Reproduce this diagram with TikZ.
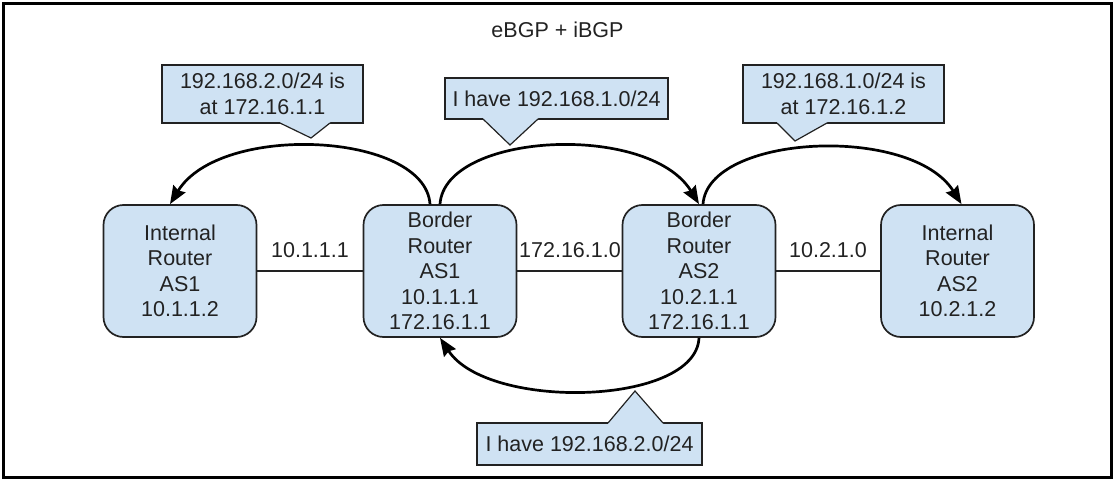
\documentclass[tikz,border=0pt]{standalone}
\usepackage{fontspec}
\setmainfont{Liberation Sans}
\usetikzlibrary{arrows.meta}
\definecolor{boxfill}{HTML}{CFE2F3}
\definecolor{edge}{HTML}{222222}
\begin{document}
\begin{tikzpicture}[x=1pt,y=-1pt,
  txt/.style={font=\fontsize{21.5}{25.5}\selectfont, text=edge},
  router/.style={txt, draw=edge, fill=boxfill, line width=1.7pt, rounded corners=20pt,
    minimum width=153pt, minimum height=132pt, inner sep=0pt, align=center},
  callout/.style={txt, draw=edge, fill=boxfill, line width=1.2pt, inner sep=0pt, align=center},
  pointerfill/.style={fill=boxfill},
  pointerline/.style={draw=edge, line width=1.2pt, line join=miter},
  link/.style={draw=edge, line width=1.4pt},
  bgp/.style={draw=black, line width=2.7pt, -{Stealth[length=18pt,width=14pt,inset=2pt]}}
]
\useasboundingbox (0,0) rectangle (1114,479);
\draw[line width=3pt] (3,3) rectangle (1111,477);

\node[txt] (title) at (557.5,29.5) {eBGP + iBGP};

% routers
\node[router] (i1) at (180,271) {Internal\\Router\\AS1\\10.1.1.2};
\node[router] (b1) at (440,271) {Border\\Router\\AS1\\10.1.1.1\\172.16.1.1};
\node[router] (b2) at (699,271) {Border\\Router\\AS2\\10.2.1.1\\172.16.1.1};
\node[router] (i2) at (957.5,271) {Internal\\Router\\AS2\\10.2.1.2};

% links
\draw[link] (i1.east) -- (b1.west);
\draw[link] (b1.east) -- (b2.west);
\draw[link] (b2.east) -- (i2.west);
\node[txt] (l1) at (310,250) {10.1.1.1};
\node[txt] (l2) at (570,250) {172.16.1.0};
\node[txt] (l3) at (828,250) {10.2.1.0};

% BGP arcs
\draw[bgp] ([xshift=-10pt]b1.north) .. controls +(-5,-72) and +(50,-82) .. ([xshift=-10pt]i1.north);
\draw[bgp] (b1.north) .. controls +(5,-72) and +(-50,-82) .. (b2.north);
\draw[bgp] ([xshift=4pt]b2.north) .. controls +(5,-70) and +(-50,-80) .. ([xshift=4pt]i2.north);
\draw[bgp] (b2.south) .. controls +(-3,68) and +(48,73) .. (b1.south);

% callouts
\node[callout, minimum width=201pt, minimum height=58pt] (c1) at (262.5,94) {192.168.2.0/24 is\\at 172.16.1.1};
\fill[pointerfill] (280,121) -- (280,123) -- (311,138) -- (330,123) -- (330,121) -- cycle;
\draw[pointerline] (280,123) -- (311,138) -- (330,123);

\node[callout, minimum width=223pt, minimum height=41pt] (c2) at (556.5,98.5) {I have 192.168.1.0/24};
\fill[pointerfill] (483,117) -- (483,119) -- (510,145) -- (538,119) -- (538,117) -- cycle;
\draw[pointerline] (483,119) -- (510,145) -- (538,119);

\node[callout, minimum width=201pt, minimum height=58pt] (c3) at (843.5,94) {192.168.1.0/24 is\\at 172.16.1.2};
\fill[pointerfill] (777,121) -- (777,123) -- (795,141) -- (827,123) -- (827,121) -- cycle;
\draw[pointerline] (777,123) -- (795,141) -- (827,123);

\node[callout, minimum width=225pt, minimum height=42pt] (c4) at (589.5,444) {I have 192.168.2.0/24};
\fill[pointerfill] (608,425) -- (608,423) -- (635,391) -- (663,423) -- (663,425) -- cycle;
\draw[pointerline] (608,423) -- (635,391) -- (663,423);
\end{tikzpicture}
\end{document}
